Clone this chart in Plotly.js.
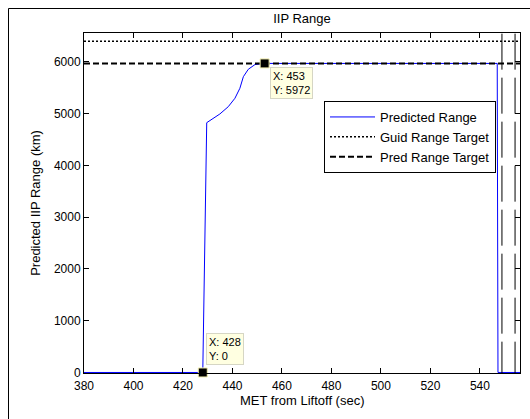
<!DOCTYPE html>
<html>
<head>
<meta charset="utf-8">
<script src="https://cdn.plot.ly/plotly-3.0.1.min.js"></script>
<style>html,body{margin:0;padding:0;background:#fff;}#chart{width:530px;height:419px;}</style>
</head>
<body>
<div id="chart"></div>
<script>
// Predicted IIP range (blue)
const metX = [380, 400, 428, 429.6, 431.6, 434.9, 438.3, 441.0, 443.0, 444.4, 446.4, 449.1, 453, 480, 520, 547.0, 547.3, 556.2];
const rangeY = [0, 0, 0, 4827, 4893, 4995, 5136, 5299, 5492, 5716, 5859, 5950, 5972, 5972, 5972, 5972, 0, 0];
// Targets
const guidX = [380, 556.2];
const guidY = [6400, 6400];
const predTgtX = [380, 556.2];
const predTgtY = [5972, 5972];
// vertical target lines at end of data
const endLineX = [548.9, 554.2];
const endLineY = [-100, 7000];
// data tips
const tipX = [428, 453];
const tipY = [0, 5972];
const tipText = ['X: 428<br>Y: 0', 'X: 453<br>Y: 5972'];
const xTicks = [380, 400, 420, 440, 460, 480, 500, 520, 540];
const yTicks = [0, 1000, 2000, 3000, 4000, 5000, 6000];

const FONT = 'Liberation Sans, Arial, sans-serif';
const L = 84, R = 10, T = 33, B = 46, W = 530, H = 419;
const pw = W - L - R, ph = H - T - B;
const px = v => (v - L) / pw;
const py = v => (H - B - v) / ph;

const traces = [
  {x: metX, y: rangeY, mode: 'lines', name: 'Predicted Range', line: {color: '#0000ff', width: 1}},
  {x: guidX, y: guidY, mode: 'lines', name: 'Guid Range Target', line: {color: '#000', width: 1.5, dash: '2px,2px'}},
  {x: predTgtX, y: predTgtY, mode: 'lines', name: 'Pred Range Target', line: {color: '#000', width: 2, dash: '6px,3px'}},
];
endLineX.forEach(xv => traces.push({x: [xv, xv], y: endLineY, mode: 'lines', showlegend: false, hoverinfo: 'skip', line: {color: '#000', width: 1, dash: '36px,8px'}}));
traces.push({x: tipX, y: tipY, mode: 'markers', showlegend: false, cliponaxis: false,
  marker: {symbol: 'square', size: 9, color: '#000', line: {color: '#f4f0b0', width: 1}}});

const annotations = [
  {x: tipX[0], y: tipY[0], text: tipText[0], showarrow: false, xanchor: 'left', yanchor: 'bottom', xshift: 3, yshift: 7, align: 'left',
   bgcolor: '#ffffe1', bordercolor: '#d6d6c4', borderwidth: 1, borderpad: 2, font: {family: FONT, size: 11, color: '#000'}},
  {x: tipX[1], y: tipY[1], text: tipText[1], showarrow: false, xanchor: 'left', yanchor: 'top', xshift: 5, yshift: -4, align: 'left',
   bgcolor: '#ffffe1', bordercolor: '#d6d6c4', borderwidth: 1, borderpad: 2, font: {family: FONT, size: 11, color: '#000'}},
  {xref: 'paper', yref: 'paper', x: 0.5, y: py(400), xanchor: 'center', yanchor: 'middle', showarrow: false,
   text: 'MET from Liftoff (sec)', font: {family: FONT, size: 13, color: '#000'}}
];

const shapes = [
  {type: 'line', xref: 'paper', yref: 'paper', x0: px(8.5), x1: px(560), y0: py(8.5), y1: py(8.5), line: {color: '#000', width: 1}},
  {type: 'line', xref: 'paper', yref: 'paper', x0: px(8.5), x1: px(8.5), y0: py(8.5), y1: py(440), line: {color: '#000', width: 1}}
];

const axisCommon = {
  showgrid: false, zeroline: false, showline: true, linecolor: '#000', linewidth: 1,
  mirror: 'ticks', ticks: 'inside', ticklen: 5, tickcolor: '#000', tickwidth: 1,
  tickfont: {family: FONT, size: 12, color: '#000'}
};

const layout = {
  width: W, height: H,
  margin: {l: L, r: R, t: T, b: B, pad: 0},
  paper_bgcolor: '#fff', plot_bgcolor: '#fff',
  font: {family: FONT, size: 13, color: '#000'},
  title: {text: 'IIP Range', x: 0.5, xref: 'paper', y: 1 - 18 / H, yref: 'container', yanchor: 'middle', font: {family: FONT, size: 13, color: '#000'}},
  xaxis: Object.assign({}, axisCommon, {range: [380, 556.2], tickvals: xTicks, ticktext: xTicks.map(String), ticklabelstandoff: 2}),
  yaxis: Object.assign({}, axisCommon, {range: [-10, 6560], tickvals: yTicks, ticktext: yTicks.map(String),
    title: {text: 'Predicted IIP Range (km)', font: {family: FONT, size: 13, color: '#000'}, standoff: 10}}),
  showlegend: true,
  legend: {x: px(324), y: py(101), xanchor: 'left', yanchor: 'top', bgcolor: '#fff', bordercolor: '#000', borderwidth: 1,
    font: {family: FONT, size: 13, color: '#000'}, itemwidth: 45, tracegroupgap: 0},
  annotations: annotations,
  shapes: shapes
};

Plotly.newPlot('chart', traces, layout, {staticPlot: true, displayModeBar: false});
</script>
</body>
</html>
